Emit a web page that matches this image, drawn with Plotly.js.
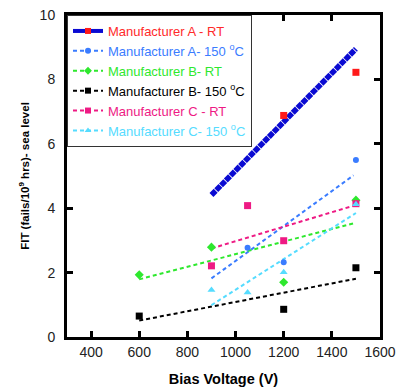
<!DOCTYPE html>
<html><head><meta charset="utf-8">
<script src="https://cdn.plot.ly/plotly-3.0.1.min.js"></script>
<style>html,body{margin:0;padding:0;background:#fff}#chart{width:396px;height:391px}</style>
</head><body><div id="chart"></div>
<script>
// Series names
const seriesNames = [
  'Manufacturer A - RT',
  'Manufacturer A- 150 <sup>o</sup>C',
  'Manufacturer B- RT',
  'Manufacturer B- 150 <sup>o</sup>C',
  'Manufacturer C - RT',
  'Manufacturer C- 150 <sup>o</sup>C'
];
// Measured points (bias voltage V, FIT)
const aRT_x = [1200, 1500];
const aRT_y = [6.88, 8.22];
const a150_x = [1050, 1200, 1500];
const a150_y = [2.77, 2.32, 5.5];
const bRT_x = [600, 900, 1200, 1500];
const bRT_y = [1.93, 2.79, 1.70, 4.25];
const b150_x = [600, 1200, 1500];
const b150_y = [0.65, 0.86, 2.15];
const cRT_x = [900, 1050, 1200, 1500];
const cRT_y = [2.21, 4.08, 2.99, 4.14];
const c150_x = [900, 1050, 1200, 1500];
const c150_y = [1.46, 1.38, 2.01, 4.12];
// Fitted lines (endpoints)
const aRTfit_x = [900, 1500];  const aRTfit_y = [4.41, 8.95];
const a150fit_x = [900, 1490]; const a150fit_y = [1.82, 5.02];
const bRTfit_x = [600, 1500];  const bRTfit_y = [1.79, 3.55];
const b150fit_x = [600, 1500]; const b150fit_y = [0.51, 1.81];
const cRTfit_x = [900, 1500];  const cRTfit_y = [2.75, 4.10];
const c150fit_x = [900, 1500]; const c150fit_y = [0.99, 3.85];

const colors = {
  aLine: '#0a0ad2', aRT: '#ff1a1a', a150: '#3a7cff', bRT: '#2ee82e',
  b150: '#000000', cRT: '#ee1a84', c150: '#55dcff'
};
const textCol = ['#ff2a2a', '#3a7cff', '#2ee82e', '#000000', '#ee1a84', '#55dcff'];
const lineCol = [colors.aLine, colors.a150, colors.bRT, colors.b150, colors.cRT, colors.c150];
const markCol = [colors.aRT, colors.a150, colors.bRT, colors.b150, colors.cRT, colors.c150];
const symbols = ['square', 'circle', 'diamond', 'square', 'square', 'triangle-up'];
const dashes = ['6px,0.8px', '4px,3px', '4px,3px', '4px,3px', '4px,3px', '4px,3px'];
const widths = [5.5, 2, 2, 2, 2, 2];
const msize = [7, 6, 7, 7, 7, 7];

const fits = [[aRTfit_x, aRTfit_y], [a150fit_x, a150fit_y], [bRTfit_x, bRTfit_y],
              [b150fit_x, b150fit_y], [cRTfit_x, cRTfit_y], [c150fit_x, c150fit_y]];
const pts = [[aRT_x, aRT_y], [a150_x, a150_y], [bRT_x, bRT_y],
             [b150_x, b150_y], [cRT_x, cRT_y], [c150_x, c150_y]];

const traces = [];
for (let i = 0; i < 6; i++) {
  traces.push({x: fits[i][0], y: fits[i][1], mode: 'lines', showlegend: false,
    line: {color: lineCol[i], width: widths[i], dash: dashes[i]}, hoverinfo: 'skip'});
}
for (let i = 0; i < 6; i++) {
  traces.push({x: pts[i][0], y: pts[i][1], mode: 'markers', showlegend: false,
    marker: {symbol: symbols[i], size: msize[i], color: markCol[i]}});
}
for (let i = 0; i < 6; i++) {
  traces.push({x: [null], y: [null], mode: 'lines+markers',
    name: '<span style="color:' + textCol[i] + '">' + seriesNames[i] + '</span>',
    line: {color: lineCol[i], width: i === 0 ? 4 : 2, dash: i === 0 ? 'solid' : dashes[i]},
    marker: {symbol: symbols[i], size: 6, color: markCol[i]}});
}

const axisCommon = {
  showline: true, linecolor: '#000', linewidth: 3, mirror: 'ticks',
  ticks: 'inside', ticklen: 6, tickwidth: 3, tickcolor: '#000',
  showgrid: false, zeroline: false,
  tickfont: {family: 'Liberation Sans, Arial, sans-serif', size: 14, color: '#222'}
};
const layout = {
  width: 396, height: 391,
  margin: {l: 67, r: 16, t: 15, b: 54},
  paper_bgcolor: '#fff', plot_bgcolor: '#fff',
  showlegend: true,
  legend: {x: 0, y: 1, xanchor: 'left', yanchor: 'top', bgcolor: '#fff',
    bordercolor: '#333', borderwidth: 1, tracegroupgap: 0,
    font: {family: 'Liberation Sans, Arial, sans-serif', size: 13, color: '#000'}},
  xaxis: Object.assign({}, axisCommon, {range: [300, 1600], tickvals: [400, 600, 800, 1000, 1200, 1400, 1600],
    title: {text: '<b>Bias Voltage (V)</b>', standoff: 16,
      font: {family: 'Liberation Sans, Arial, sans-serif', size: 14.5, color: '#000'}}}),
  yaxis: Object.assign({}, axisCommon, {range: [0, 10], tickvals: [0, 2, 4, 6, 8, 10],
    ticklabelstandoff: 6,
    title: {text: '<b>FIT (fails/10<sup>9</sup> hrs)- sea level</b>', standoff: 8,
      font: {family: 'Liberation Sans, Arial, sans-serif', size: 11.5, color: '#000'}}})
};
Plotly.newPlot('chart', traces, layout, {displayModeBar: false, staticPlot: true});
</script></body></html>
